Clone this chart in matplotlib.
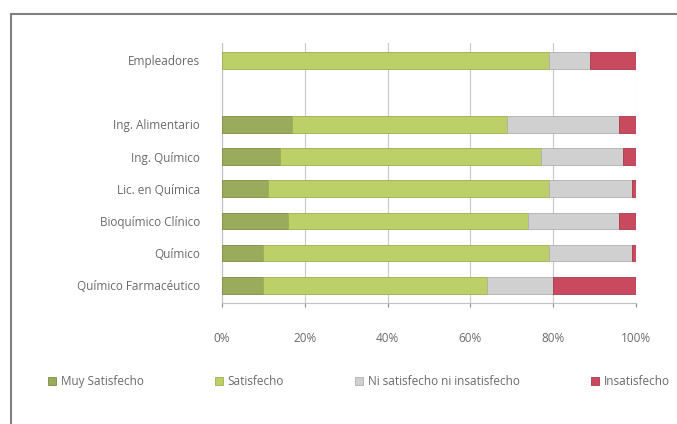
import numpy as np
import matplotlib.pyplot as plt
from matplotlib.patches import Rectangle

# Categorias (de abajo hacia arriba); la ranura vacia separa a Empleadores
categorias = ['Químico Farmacéutico', 'Químico', 'Bioquímico Clínico', 'Lic. en Química',
              'Ing. Químico', 'Ing. Alimentario', '', 'Empleadores']

# Porcentajes por nivel de satisfaccion
muy_satisfecho = [10, 10, 16, 11, 14, 17, 0, 0]
satisfecho = [54, 69, 58, 68, 63, 52, 0, 79]
ni_ni = [16, 20, 22, 20, 20, 27, 0, 10]
insatisfecho = [20, 1, 4, 1, 3, 4, 0, 11]

series = ['Muy Satisfecho', 'Satisfecho', 'Ni satisfecho ni insatisfecho', 'Insatisfecho']
colores = ['#9aab5c', '#bccf68', '#d0d0d0', '#c94a5e']
bordes = ['#7d8c45', '#9fb04f', '#b0b0b0', '#a83a4c']

plt.rcParams['font.family'] = ['Open Sans', 'DejaVu Sans']

fig = plt.figure(figsize=(6.77, 4.24), dpi=100)
ax = fig.add_axes([0.328, 0.285, 0.611, 0.614])

# Marco del area del grafico (solo se ven los bordes superior e izquierdo)
fig.patches.append(Rectangle((11 / 677, -0.05), 0.99, 1.05 - 14 / 424,
                             transform=fig.transFigure, fill=False,
                             edgecolor='#808080', linewidth=1.5))

y = np.arange(len(categorias))
izq = np.zeros(len(categorias))
datos = [muy_satisfecho, satisfecho, ni_ni, insatisfecho]
for nombre, valores, c, b in zip(series, datos, colores, bordes):
    valores = np.array(valores, dtype=float)
    hay = valores > 0
    ax.barh(y[hay], valores[hay], left=izq[hay], height=0.52, color=c, edgecolor=b,
            linewidth=0.6, label=nombre, zorder=3)
    izq += valores

ax.set_xlim(0, 100)
ax.set_ylim(-0.56, 7.54)
ax.set_xticks([0, 20, 40, 60, 80, 100])
ax.set_xticklabels(['0%', '20%', '40%', '60%', '80%', '100%'])
ax.set_yticks(y)
ax.set_yticklabels(categorias)
ax.tick_params(axis='x', length=3, pad=18, labelsize=8.5, colors='#8a8a8a', labelcolor='#6a6a6a')
ax.tick_params(axis='y', length=0, pad=16, labelsize=8.5, labelcolor='#6a6a6a')
ax.grid(axis='x', color='#c8c8c8', linewidth=0.8, zorder=0)
for lado in ['top', 'right']:
    ax.spines[lado].set_visible(False)
ax.spines['left'].set_color('#c0c0c0')
ax.spines['bottom'].set_color('#c0c0c0')

fig.legend(loc='center', bbox_to_anchor=(0.53, 0.1), ncol=4, frameon=False,
           fontsize=8.5, handlelength=0.7, handleheight=0.7, handletextpad=0.4,
           columnspacing=6.0, labelcolor='#6a6a6a')

fig.savefig('out.png', dpi=100)
